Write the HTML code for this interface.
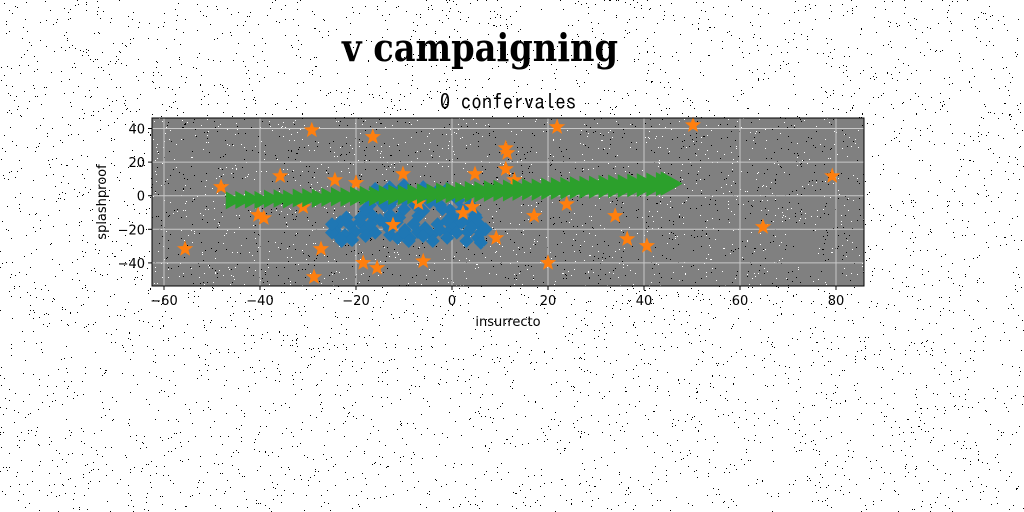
<!DOCTYPE html>
<html><head><meta charset="utf-8"><style>
body{margin:0;background:#fff;width:1024px;height:512px;overflow:hidden}
svg{display:block}
</style></head><body>
<svg id="chart" width="1024" height="512" xmlns="http://www.w3.org/2000/svg">
<g id="bgnoise"></g>
<text x="480" y="61" text-anchor="middle" font-family="'DejaVu Serif','Liberation Serif',serif" font-weight="bold" font-size="38" textLength="276" lengthAdjust="spacingAndGlyphs">v campaigning</text>
<text x="508" y="109" text-anchor="middle" font-family="'IPAGothic','Liberation Mono',monospace" font-size="21">0 confervales</text>
<rect x="152" y="118" width="712" height="168" fill="#808080"/>
<g id="plotnoise"></g>
<g id="grid"></g>
<g id="marks"></g>
<rect x="152" y="118" width="712" height="168" fill="none" stroke="#000" stroke-width="1"/>
<g id="axes" font-family="'DejaVu Sans',sans-serif" font-size="13"></g>
<text x="508" y="326" text-anchor="middle" font-family="'DejaVu Sans',sans-serif" font-size="13">insurrecto</text>
<text transform="translate(106,202) rotate(-90)" text-anchor="middle" font-family="'DejaVu Sans',sans-serif" font-size="13">splashproof</text>
</svg>
<script>
const xTicks=[-60,-40,-20,0,20,40,60,80];
const yTicks=[-40,-20,0,20,40];
const blueX=[-24.4,-23.3,-22.3,-21.3,-20.2,-19.2,-18.1,-20.8,-23.3,-17.1,-16,-15,-14,-12.9,-11.9,-10.8,-9.8,-8.8,-7.7,-6.7,-5.6,-4.6,-3.5,-2.5,-1.5,-16.7,-15,-12.9,-11.5,-12.9,-11.3,-9.8,-8.8,-7.1,-5.6,-4.2,-2.5,-0.8,0.6,1.7,2.1,3.8,4.8,5.8,3.3,5.4,3.8,1.3,-0.4,
 -25,-25,-22,-19,-17,-18,-21,-23,-16,-13,-10,-8,-6,-3,-1,-4,-9,-14,-11,-7,-16,-13,-10,-6,-3,-1,-14,-10,-6,-2,-18,0,2,4,6,6,3,1,-1,5,7];
const blueY=[-20.4,-15.7,-23.4,-17.4,-21.6,-15.7,-20.4,-26.4,-25.2,-5.5,0.4,-2.6,2.2,-5.5,-1.4,3.4,-2.6,0.4,-5.5,-1.4,1.6,-3.8,-1.4,-5.5,2.2,-11.5,-14.5,-11.5,-15.7,-23.4,-25.2,-20.4,-25.2,-21.6,-19.2,-23.4,-20.4,-21.6,-18,-13.3,-8.5,-5.5,-11.5,-17.4,-21.6,-25.2,-15.7,-2.6,-8.5,
 -22,-17,-13,-13,-17,-24,-26,-27,-22,-20,-22,-17,-24,-17,-25,-27,-27,-16,-13,-12,4,5,6,5,3,4,-6,-8,-9,-8,-8,-12,-16,-19,-22,-28,-27,-22,-15,-13,-20];
const starX=[-55.6,-48.1,-40.4,-39.2,-35.8,-29.2,-24.4,-27.3,-28.75,-16.5,-10.2,4.8,11.2,11.2,11.5,-20,2.3,4.2,-12.3,-18.5,-15.6,-6,9.2,-7,-31,21.9,50.2,79.2,23.9,17.1,34,36.5,40.6,64.8,20,13];
const starY=[-31.7,5.2,-11.5,-13.3,11.7,39,9.3,-31.7,-48.4,35,12.9,12.9,15.9,28.3,25.4,7.6,-10.3,-6.7,-17.4,-40,-43,-39,-25.2,-4.4,-6.7,40.9,42,11.7,-5,-12,-12,-25.8,-29.9,-18.6,-40,9.3];
const greenX=[-46,-44,-42,-40,-38,-36,-34,-32,-30,-28,-26,-24,-22,-20,-18,-16,-14,-12,-10,-8,-6,-4,-2,0,2,4,6,8,10,12,14,16,18,20,22,24,26,28,30,32,34,36,38,40,42,44,45];
const greenY=[-2.8,-2.5,-2.2,-2.6,-1.9,-1.7,-2,-1.4,-1.2,-1.5,-0.9,-0.6,-0.8,-0.3,0,-0.2,0.4,0.6,0.5,1,1.2,1.1,1.6,1.8,2,2.4,2.3,2.8,3,3.1,3.5,3.7,3.6,4.1,4.3,4.4,4.8,5,5.1,5.4,5.6,5.8,6.1,6.3,6.6,6.9,7.2];
const NS='http://www.w3.org/2000/svg';
const X0=452,XS=4.8,Y0=195.7,YS=1.68;
const sx=v=>X0+v*XS, sy=v=>Y0-v*YS;
function mk(tag,attrs,parent){const e=document.createElementNS(NS,tag);for(const k in attrs)e.setAttribute(k,attrs[k]);parent.appendChild(e);return e;}
let seed=7;const rnd=()=>{seed=(seed*16807)%2147483647;return seed/2147483647;};
const bg=document.getElementById('bgnoise');
let d='';for(let i=0;i<5000;i++){d+='M'+Math.floor(rnd()*1024)+' '+Math.floor(rnd()*512)+'h1v1h-1z';}
mk('path',{d:d,fill:'#000'},bg);
const pn=document.getElementById('plotnoise');
let d1='',d2='';for(let i=0;i<2200;i++){const x=152+Math.floor(rnd()*712),y=118+Math.floor(rnd()*168);const s='M'+x+' '+y+'h1v1h-1z';if(rnd()<0.5)d1+=s;else d2+=s;}
mk('path',{d:d1,fill:'#000'},pn);mk('path',{d:d2,fill:'#fff'},pn);
const grid=document.getElementById('grid'),axes=document.getElementById('axes');
xTicks.forEach(t=>{const x=sx(t);
 const g=mk('line',{x1:x,x2:x,y1:118,y2:286,stroke:'#c8c8c8','stroke-width':1},grid);
 
 mk('line',{x1:x,x2:x,y1:286,y2:290,stroke:'#000'},axes);
 const l=mk('text',{x:x,y:305,'text-anchor':'middle'},axes);l.textContent=t<0?'\u2212'+(-t):t;
 });
yTicks.forEach(t=>{const y=sy(t);
 const g=mk('line',{x1:152,x2:864,y1:y,y2:y,stroke:'#c8c8c8','stroke-width':1},grid);
 
 mk('line',{x1:148,x2:152,y1:y,y2:y,stroke:'#000'},axes);
 const l=mk('text',{x:145,y:y+5,'text-anchor':'end'},axes);l.textContent=t<0?'\u2212'+(-t):t;
 });
const marks=document.getElementById('marks');
blueX.forEach((v,i)=>{const x=sx(v),y=sy(blueY[i]);
 const p=mk('polygon',{points:`${x},${y-7} ${x+7},${y} ${x},${y+7} ${x-7},${y}`,fill:'#1f77b4'},marks);
 });
function star(cx,cy,R){const r=R*0.42;let pts=[];for(let i=0;i<10;i++){const a=-Math.PI/2+i*Math.PI/5;const rr=i%2?r:R;pts.push((cx+rr*Math.cos(a)).toFixed(1)+','+(cy+rr*Math.sin(a)).toFixed(1));}return pts.join(' ');}
starX.forEach((v,i)=>{const p=mk('polygon',{points:star(sx(v),sy(starY[i]),8.5),fill:'#ff7f0e'},marks);
 });
greenX.forEach((v,i)=>{const x=sx(v),y=sy(greenY[i]);const h=9+i*0.07,w=h*1.2;
 const p=mk('polygon',{points:`${x-w*0.5},${y-h} ${x+w},${y} ${x-w*0.5},${y+h}`,fill:'#2ca02c'},marks);
 });
</script>
</body></html>
